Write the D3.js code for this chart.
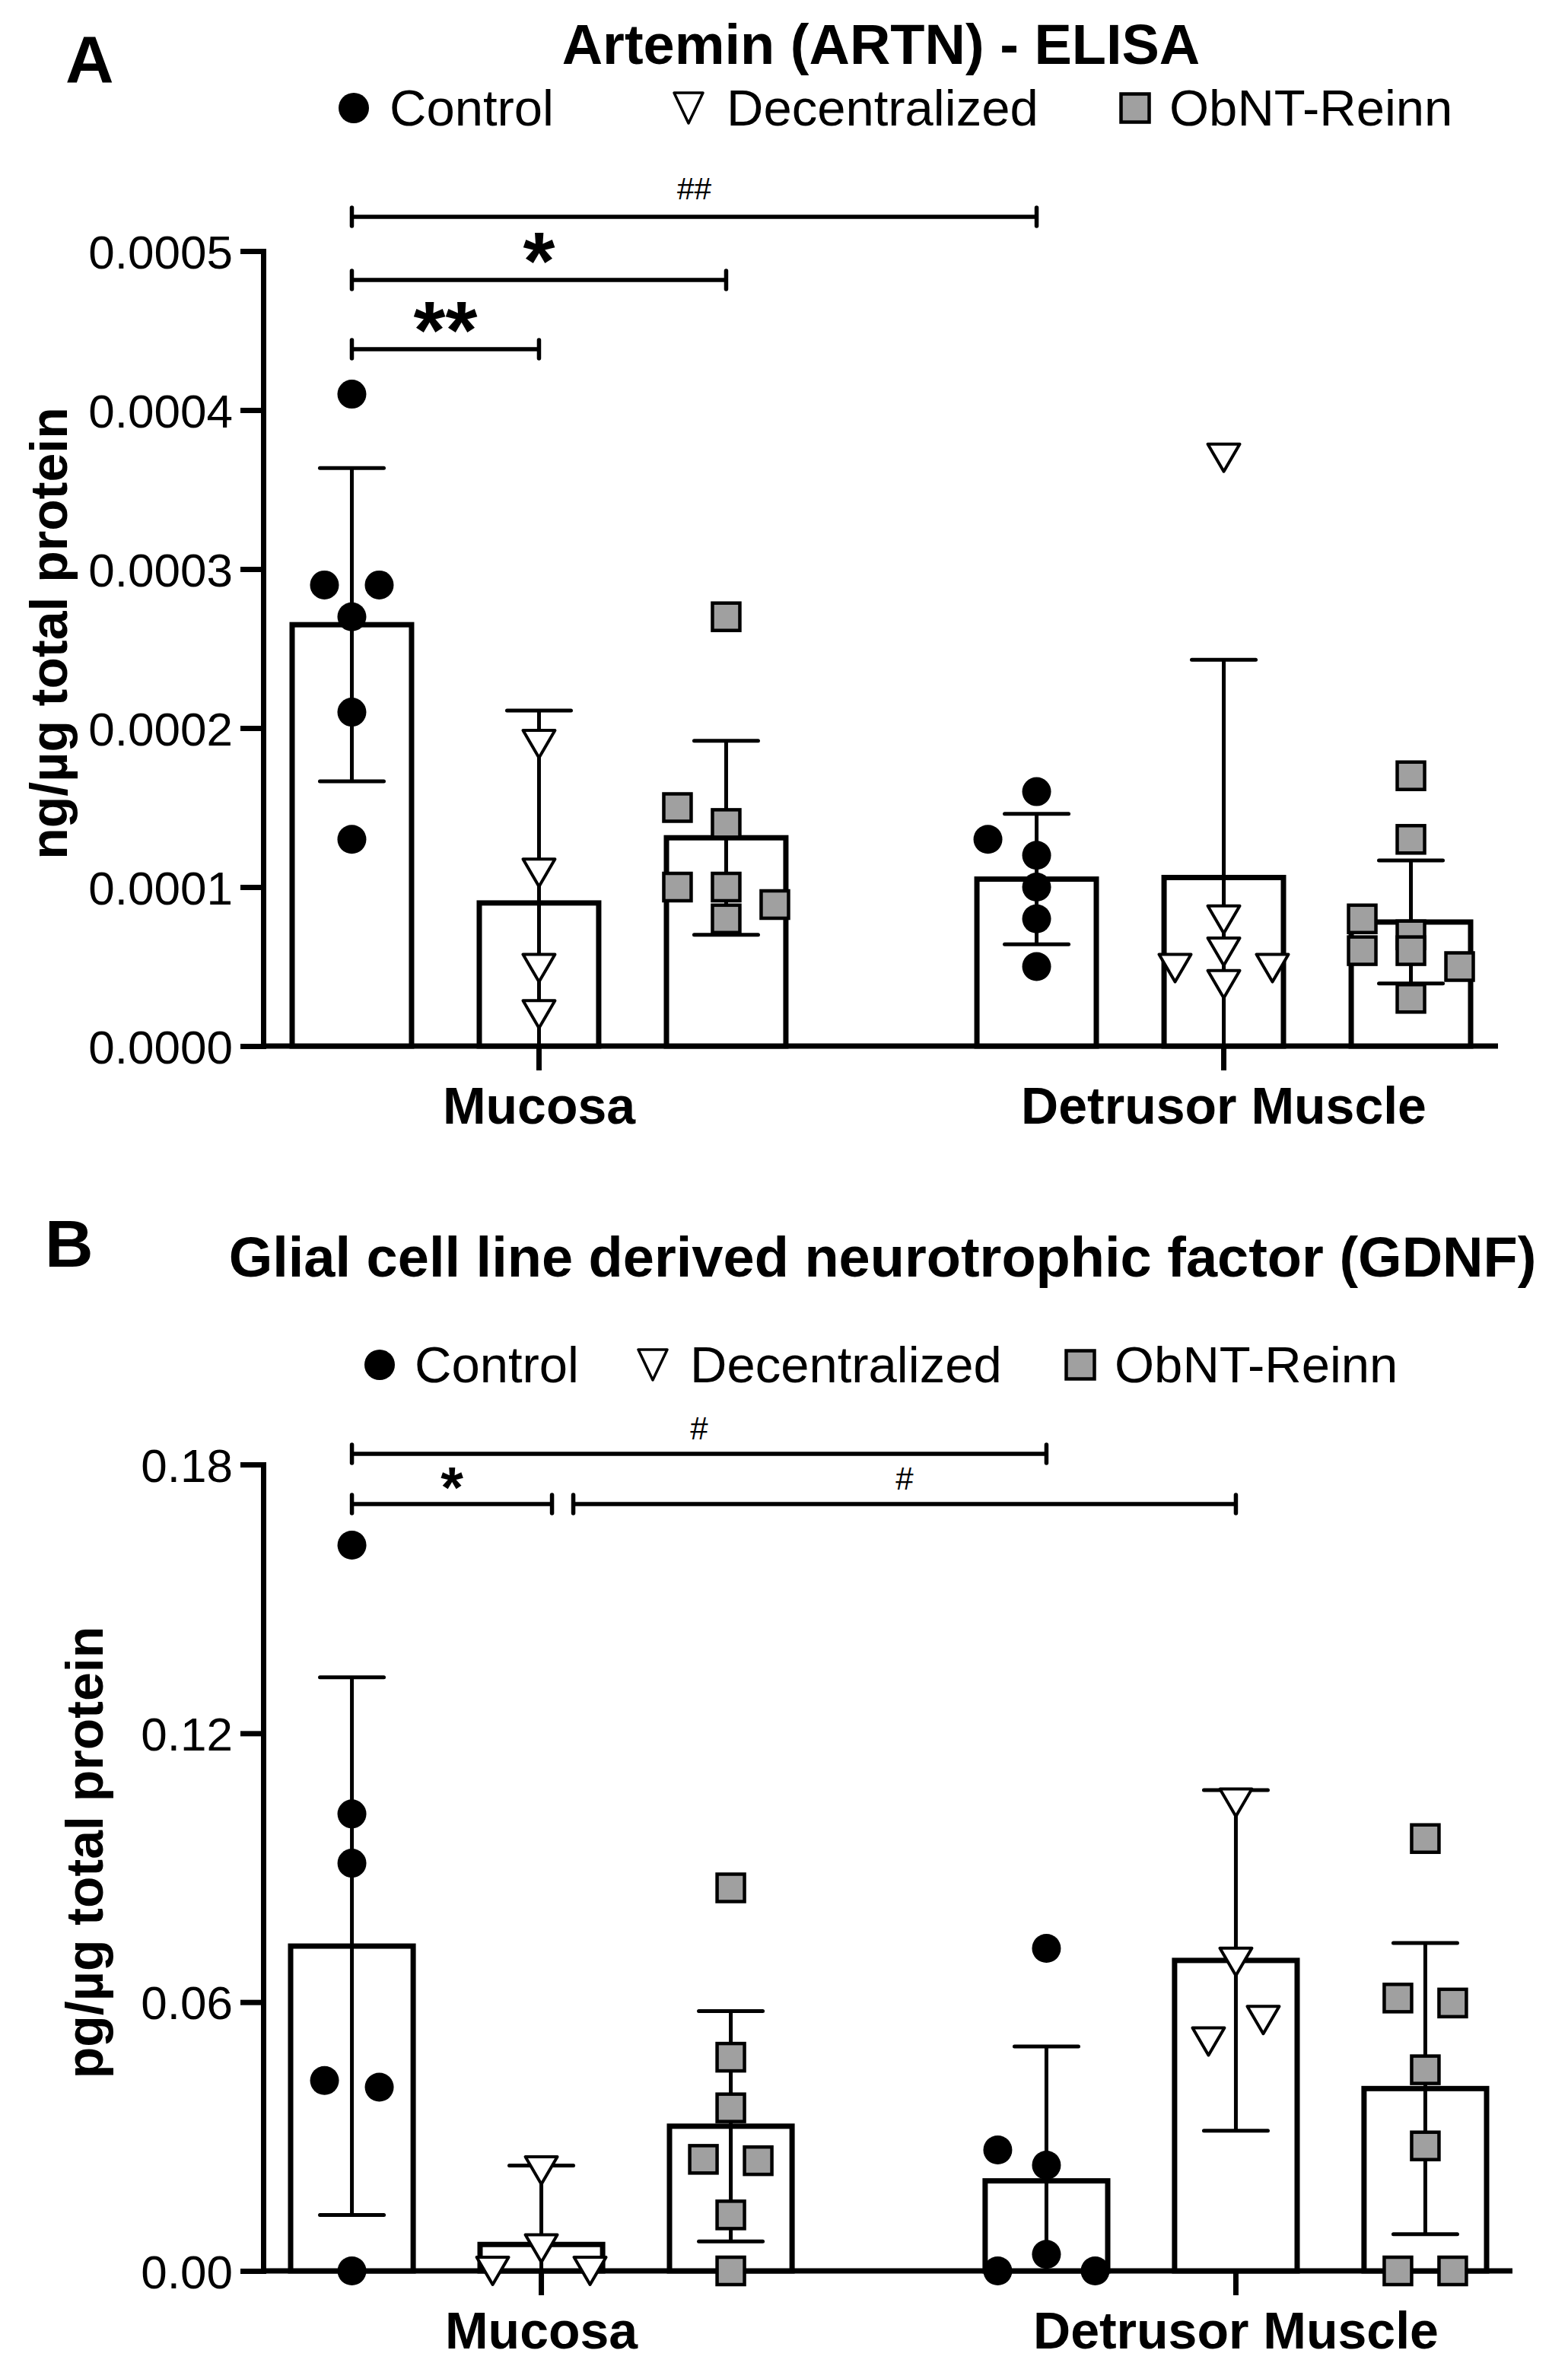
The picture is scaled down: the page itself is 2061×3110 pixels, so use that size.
<!DOCTYPE html>
<html>
<head>
<meta charset="utf-8">
<script src="https://cdn.jsdelivr.net/npm/d3@7"></script>
<style>
  body { margin: 0; background: #fff; }
  svg { display: block; }
</style>
</head>
<body>
<div id="chart"></div>
<script>
// Artemin / GDNF ELISA bar charts with individual points (two panels)
const FONT = '"Liberation Sans", Arial, Helvetica, sans-serif'

const tissues = ["Mucosa", "Detrusor Muscle"]
const groups = ["Control", "Decentralized", "ObNT-Reinn"]

// Panel A - Artemin (ng/µg total protein)
const artnTicks = [0, 0.0001, 0.0002, 0.0003, 0.0004, 0.0005]
// bar order: Mucosa (Control, Decentralized, ObNT-Reinn), Detrusor (Control, Decentralized, ObNT-Reinn)
const artnMean = [0.000265, 0.00009, 0.000131, 0.000105, 0.000106, 0.000078]
const artnSD = [0.0000985, 0.000121, 0.000061, 0.000041, 0.000137, 0.0000387]
const artnControlMucosa = [0.00041, 0.00029, 0.00029, 0.00027, 0.00021, 0.00013]
const artnDecentMucosa = [0.00019, 0.000109, 0.000049, 0.00002]
const artnObntMucosa = [0.00027, 0.00015, 0.00014, 0.0001, 0.0001, 0.000089, 0.00008]
const artnControlDetrusor = [0.00016, 0.00013, 0.00012, 0.0001, 0.00008, 0.00005]
const artnDecentDetrusor = [0.00037, 0.0000795, 0.0000593, 0.000049, 0.000049, 0.0000389]
const artnObntDetrusor = [0.00017, 0.00013, 0.00008, 0.00007, 0.00006, 0.00006, 0.00005, 0.00003]
const artnBrackets = [
  { from: ["Mucosa", "Control"], to: ["Detrusor Muscle", "Control"], label: "##" },
  { from: ["Mucosa", "Control"], to: ["Mucosa", "ObNT-Reinn"], label: "*" },
  { from: ["Mucosa", "Control"], to: ["Mucosa", "Decentralized"], label: "**" }
]

// Panel B - GDNF (pg/µg total protein)
const gdnfTicks = [0, 0.06, 0.12, 0.18]
const gdnfMean = [0.0725, 0.0059, 0.0323, 0.0201, 0.0693, 0.0407]
const gdnfSD = [0.060, 0.0176, 0.0257, 0.030, 0.038, 0.0325]
const gdnfControlMucosa = [0.162, 0.102, 0.091, 0.0425, 0.041, 0]
const gdnfDecentMucosa = [0.0224, 0.005, 0, 0]
const gdnfObntMucosa = [0.0855, 0.0477, 0.0364, 0.0246, 0.0249, 0.0125, 0]
const gdnfControlDetrusor = [0.072, 0.027, 0.0236, 0.0037, 0, 0]
const gdnfDecentDetrusor = [0.1045, 0.069, 0.056, 0.0512]
const gdnfObntDetrusor = [0.0965, 0.0609, 0.0598, 0.0449, 0.0279, 0, 0]
const gdnfBrackets = [
  { from: ["Mucosa", "Control"], to: ["Detrusor Muscle", "Control"], label: "#" },
  { from: ["Mucosa", "Control"], to: ["Mucosa", "Decentralized"], label: "*" },
  { from: ["Mucosa", "Decentralized"], to: ["Detrusor Muscle", "Decentralized"], label: "#" }
]

const panelA = {
  letter: "A",
  title: "Artemin (ARTN) - ELISA",
  yTitle: "ng/µg total protein",
  ticks: artnTicks,
  fmt: ".4f",
  mean: artnMean,
  sd: artnSD,
  points: [artnControlMucosa, artnDecentMucosa, artnObntMucosa,
           artnControlDetrusor, artnDecentDetrusor, artnObntDetrusor],
  brackets: artnBrackets
}

const panelB = {
  letter: "B",
  title: "Glial cell line derived neurotrophic factor (GDNF)",
  yTitle: "pg/µg total protein",
  ticks: gdnfTicks,
  fmt: ".2f",
  mean: gdnfMean,
  sd: gdnfSD,
  points: [gdnfControlMucosa, gdnfDecentMucosa, gdnfObntMucosa,
           gdnfControlDetrusor, gdnfDecentDetrusor, gdnfObntDetrusor],
  brackets: gdnfBrackets
}

// Layout (pixels)
const layoutA = {
  letterX: 86, letterY: 108, titleX: 1158, titleY: 84,
  legendY: 165, legendMarkX: [465, 905, 1492], legendTextX: [512, 955, 1537],
  yZero: 1375, yTop: 330, axisX: 346, axisEnd: 1969,
  barsLeft: 384, barsRight: 1933, outerPad: 0.279, innerPad: 0.362,
  yTitleX: 88, bracketY: [285, 368, 459], bracketLevel: [0, 1, 2],
  starInk: 41, hashInk: 28, labelGap: [23, 21, 21]
}

const layoutB = {
  letterX: 59, letterY: 1665, titleX: 1160, titleY: 1678,
  legendY: 1817, legendMarkX: [499, 858, 1420], legendTextX: [545, 907, 1465],
  yZero: 2985, yTop: 1925, axisX: 346, axisEnd: 1988,
  barsLeft: 382, barsRight: 1954, outerPad: 0.278, innerPad: 0.353,
  yTitleX: 135, bracketY: [1911, 1977], bracketLevel: [0, 1, 1],
  starInk: 29, hashInk: 29, labelGap: [19, 19, 19]
}

const svg = d3.select("#chart")
  .append("svg")
  .attr("width", 2061)
  .attr("height", 3110)
  .style("font-family", FONT)

svg.append("rect").attr("width", 2061).attr("height", 3110).attr("fill", "#fff")

const ctx = document.createElement("canvas").getContext("2d")

function inkBox(text, weight, size) {
  ctx.font = `${weight} ${size}px "Liberation Sans"`
  const m = ctx.measureText(text)
  return { top: m.actualBoundingBoxAscent, bottom: m.actualBoundingBoxDescent }
}

function drawMarker(sel, grp, x, y, legend) {
  if (grp === "Control") {
    sel.append("circle")
      .attr("cx", x).attr("cy", y)
      .attr("r", legend ? 20 : 19)
      .attr("fill", "#000")
  } else if (grp === "Decentralized") {
    const w = legend ? 19 : 21
    const h = legend ? 20 : 18
    sel.append("path")
      .attr("d", `M${x - w},${y - h}L${x + w},${y - h}L${x},${y + h}Z`)
      .attr("fill", "#fff")
      .attr("stroke", "#000")
      .attr("stroke-width", legend ? 3.5 : 4)
      .attr("stroke-linejoin", "round")
  } else {
    const s = legend ? 37 : 36
    sel.append("rect")
      .attr("x", x - s / 2).attr("y", y - s / 2)
      .attr("width", s).attr("height", s)
      .attr("fill", "#a0a0a0")
      .attr("stroke", "#000")
      .attr("stroke-width", 4.5)
  }
}

// GraphPad-like scatter: points with close values share a row and are spread sideways
function swarm(values, y) {
  const pts = values.map(v => ({ v, py: y(v), dx: 0 }))
  const sorted = pts.slice().sort((a, b) => b.v - a.v)
  const rows = []
  sorted.forEach(p => {
    const row = rows[rows.length - 1]
    if (row && p.py - row[0].py < 38) row.push(p)
    else rows.push([p])
  })
  rows.forEach(row => {
    const n = row.length
    if (n === 2) {
      const gap = row[1].py - row[0].py
      if (gap > 12 && gap < 24) {
        // upper point steps aside, lower one stays on the centre line
        row[0].dx = -64
        row[1].dx = 0
      } else if (gap >= 24) {
        row[1].dx = -36
        row[0].dx = 36
      } else {
        row[0].dx = -36
        row[1].dx = 36
      }
      return
    }
    row.forEach((p, k) => {
      if (n % 2 === 1) {
        const m = Math.ceil(k / 2)
        p.dx = (k % 2 === 1 ? -m : m) * 64
      } else {
        const m = Math.floor(k / 2) + 0.5
        p.dx = (k % 2 === 0 ? -m : m) * 64
      }
    })
  })
  return pts
}

function drawPanel(L, P) {
  const y = d3.scaleLinear()
    .domain([0, P.ticks[P.ticks.length - 1]])
    .range([L.yZero, L.yTop])

  const x0 = d3.scaleBand()
    .domain(tissues)
    .range([L.barsLeft, L.barsRight])
    .paddingInner(L.outerPad)

  const x1 = d3.scaleBand()
    .domain(groups)
    .range([0, x0.bandwidth()])
    .paddingInner(L.innerPad)

  const cx = (t, grp) => x0(t) + x1(grp) + x1.bandwidth() / 2
  const g = svg.append("g")

  // Panel letter and title
  g.append("text")
    .attr("x", L.letterX).attr("y", L.letterY)
    .attr("font-size", 88).attr("font-weight", "bold")
    .text(P.letter)

  g.append("text")
    .attr("x", L.titleX).attr("y", L.titleY)
    .attr("text-anchor", "middle")
    .attr("font-size", 74).attr("font-weight", "bold")
    .text(P.title)

  // Legend
  groups.forEach((grp, i) => {
    drawMarker(g, grp, L.legendMarkX[i], L.legendY - 23, true)
    g.append("text")
      .attr("x", L.legendTextX[i]).attr("y", L.legendY)
      .attr("font-size", 67)
      .text(grp)
  })

  // Y axis
  const yAxis = g.append("g")
    .attr("transform", `translate(${L.axisX},0)`)
    .call(d3.axisLeft(y)
      .tickValues(P.ticks)
      .tickFormat(d3.format(P.fmt))
      .tickSize(30)
      .tickPadding(10)
      .tickSizeOuter(0))
    .attr("font-family", FONT)
    .attr("font-size", 62)

  yAxis.select(".domain").attr("stroke-width", 7).attr("stroke-linecap", "square")
  yAxis.selectAll(".tick line").attr("stroke-width", 7)
  yAxis.selectAll(".tick text").attr("dy", "0.355em")

  g.append("text")
    .attr("transform", `translate(${L.yTitleX},${(L.yZero + L.yTop) / 2 - 20}) rotate(-90)`)
    .attr("text-anchor", "middle")
    .attr("font-size", 68).attr("font-weight", "bold")
    .text(P.yTitle)

  // X axis
  g.append("line")
    .attr("x1", L.axisX).attr("x2", L.axisEnd)
    .attr("y1", L.yZero).attr("y2", L.yZero)
    .attr("stroke", "#000").attr("stroke-width", 7)

  const xAxis = g.append("g")
    .attr("transform", `translate(0,${L.yZero})`)
    .call(d3.axisBottom(x0).tickSize(32).tickPadding(22))
    .attr("font-family", FONT)
    .attr("font-size", 68)
    .attr("font-weight", "bold")

  xAxis.select(".domain").remove()
  xAxis.selectAll(".tick line").attr("stroke-width", 7)

  // Bars, error bars, points
  const bw = x1.bandwidth()
  const cells = []
  tissues.forEach((t, ti) => groups.forEach((grp, gi) => {
    const k = ti * groups.length + gi
    cells.push({ t, grp, mean: P.mean[k], sd: P.sd[k], values: P.points[k] })
  }))

  g.selectAll(".bar")
    .data(cells)
    .enter()
    .append("rect")
    .attr("class", "bar")
    .attr("x", d => cx(d.t, d.grp) - bw / 2)
    .attr("width", bw)
    .attr("y", d => y(d.mean))
    .attr("height", d => L.yZero - y(d.mean))
    .attr("fill", "#fff")
    .attr("stroke", "#000")
    .attr("stroke-width", 7)

  cells.forEach(d => {
    const x = cx(d.t, d.grp)
    const lo = d.mean - d.sd
    const hi = d.mean + d.sd
    g.append("line")
      .attr("x1", x).attr("x2", x)
      .attr("y1", y(Math.max(lo, 0))).attr("y2", y(hi))
      .attr("stroke", "#000").attr("stroke-width", 5)
    const caps = lo > 0 ? [hi, lo] : [hi]
    caps.forEach(v => {
      g.append("line")
        .attr("x1", x - 42).attr("x2", x + 42)
        .attr("y1", y(v)).attr("y2", y(v))
        .attr("stroke", "#000").attr("stroke-width", 5)
        .attr("stroke-linecap", "round")
    })
  })

  cells.forEach(d => {
    const x = cx(d.t, d.grp)
    swarm(d.values, y).forEach(p => drawMarker(g, d.grp, x + p.dx, p.py, false))
  })

  // Significance brackets
  P.brackets.forEach((b, i) => {
    const level = L.bracketLevel[i]
    const yb = L.bracketY[level]
    let xa = cx(...b.from)
    let xb = cx(...b.to)
    P.brackets.forEach((o, j) => {
      if (j === i || L.bracketLevel[j] !== level) return
      if (o.to.join() === b.from.join()) xa += 42
      if (o.from.join() === b.to.join()) xb += 14
    })

    g.append("path")
      .attr("d", `M${xa},${yb - 12}V${yb + 12}M${xa},${yb}H${xb}M${xb},${yb - 12}V${yb + 12}`)
      .attr("fill", "none")
      .attr("stroke", "#000")
      .attr("stroke-width", 5.5)
      .attr("stroke-linecap", "round")

    const star = b.label.includes("*")
    const weight = star ? "bold" : "normal"
    const ref = inkBox(b.label, weight, 100)
    const size = 100 * (star ? L.starInk : L.hashInk) / (ref.top + ref.bottom)
    const box = inkBox(b.label, weight, size)

    g.append("text")
      .attr("x", (xa + xb) / 2)
      .attr("y", yb - L.labelGap[i] - box.bottom)
      .attr("text-anchor", "middle")
      .attr("font-size", size)
      .attr("font-weight", weight)
      .text(b.label)
  })
}

drawPanel(layoutA, panelA)
drawPanel(layoutB, panelB)
</script>
</body>
</html>
